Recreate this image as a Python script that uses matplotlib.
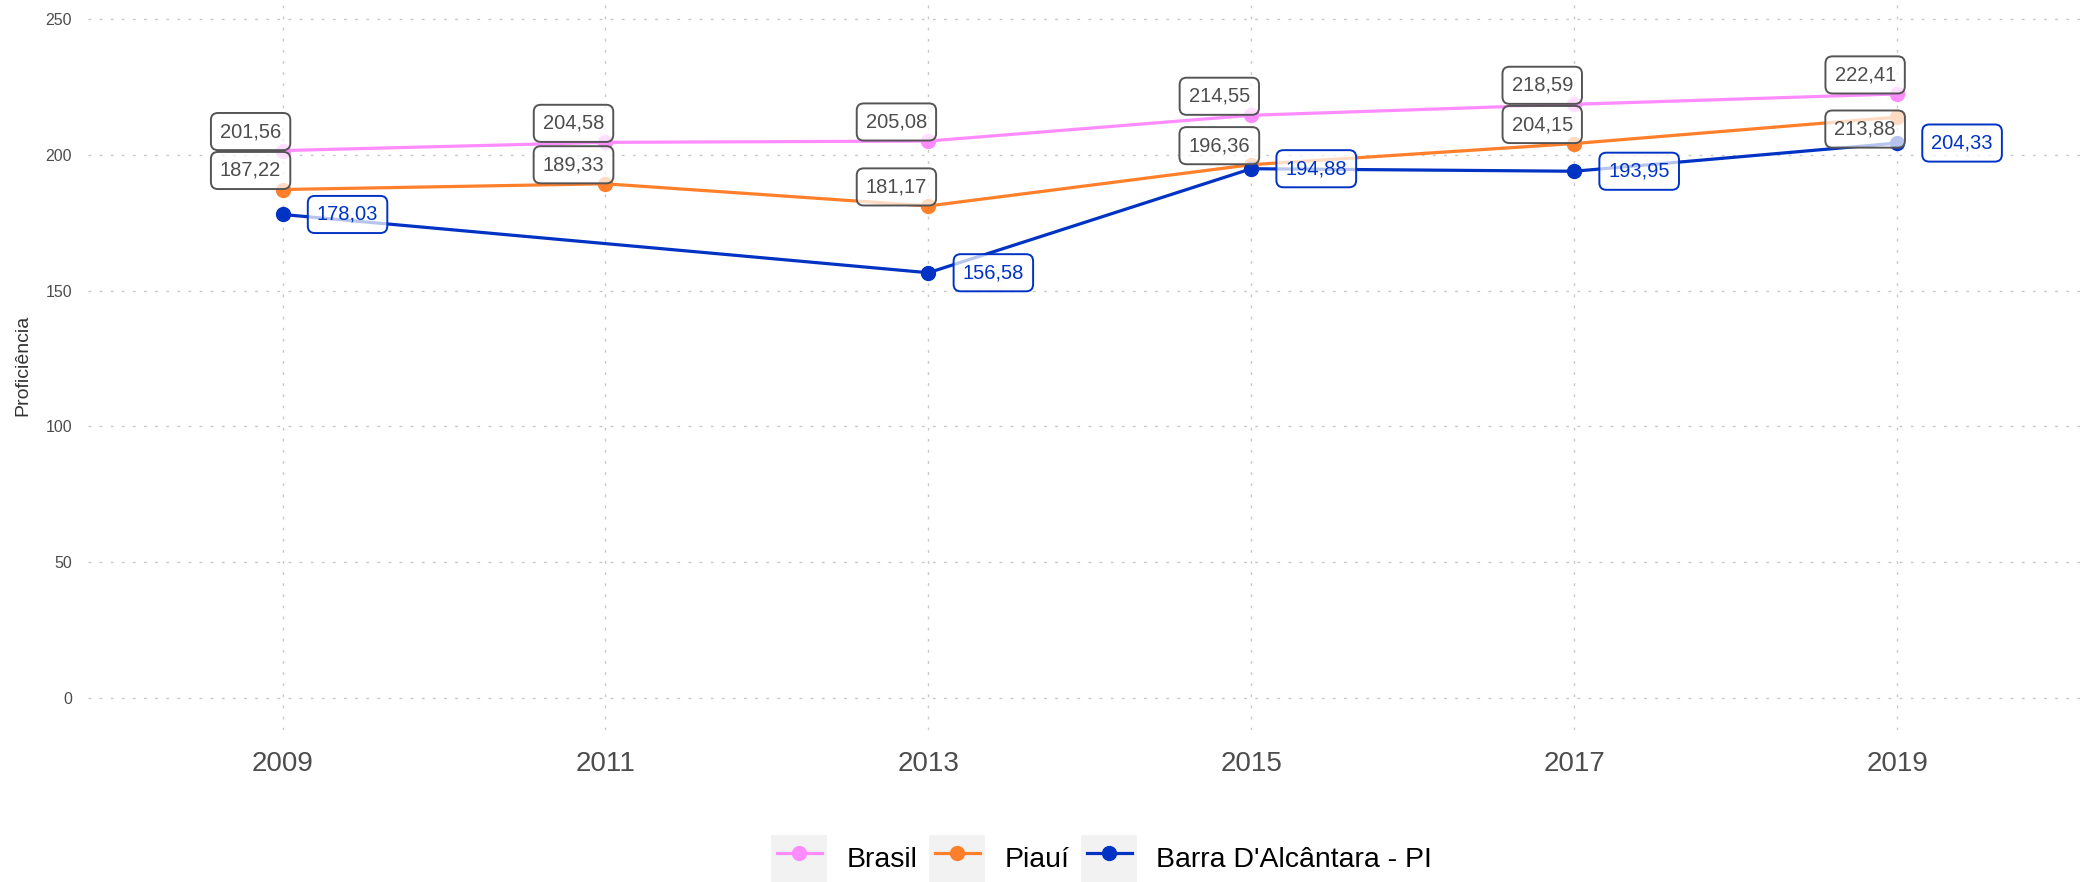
import matplotlib
matplotlib.use('Agg')
import matplotlib.pyplot as plt
from matplotlib.legend_handler import HandlerLine2D
from matplotlib.patches import Rectangle

plt.rcParams['font.family'] = ['Liberation Sans', 'DejaVu Sans']

# data
years = [2009, 2011, 2013, 2015, 2017, 2019]
brasil = [201.56, 204.58, 205.08, 214.55, 218.59, 222.41]
piaui = [187.22, 189.33, 181.17, 196.36, 204.15, 213.88]
years_barra = [2009, 2013, 2015, 2017, 2019]
barra = [178.03, 156.58, 194.88, 193.95, 204.33]
series_names = ['Brasil', 'Piauí', "Barra D'Alcântara - PI"]
y_ticks = [0, 50, 100, 150, 200, 250]

# styles
colors = ['#ff8cff', '#ff7f2a', '#0033c4']
gray_txt = '#4d4d4d'


class KeyWithBackground(HandlerLine2D):
    """Legend key with the grey ggplot-like background square."""

    def create_artists(self, legend, orig_handle, xdescent, ydescent,
                       width, height, fontsize, trans):
        arts = super().create_artists(legend, orig_handle, xdescent, ydescent,
                                      width, height, fontsize, trans)
        m = 0.19 * fontsize
        bg = Rectangle((-xdescent - m, -ydescent - height * 0.1), width + 2 * m, height * 1.2,
                       facecolor='#f2f2f2', edgecolor='none', transform=trans)
        return [bg] + arts


def fmt(v):
    return '{:.2f}'.format(v).replace('.', ',')


def add_label(ax, x, y, dx, dy, color, edge):
    ax.annotate(fmt(y), (x, y), xytext=(dx, dy), textcoords='offset points',
                ha='center', va='center', fontsize=14.5, color=color, zorder=10,
                bbox=dict(boxstyle='round,pad=0.45,rounding_size=0.35',
                          fc=(1, 1, 1, 0.72), ec=edge, lw=1.4))


fig = plt.figure(figsize=(20.8, 8.82), dpi=100)
ax = fig.add_axes([88 / 2080, 1 - 730 / 882, 1 - 88 / 2080, 730 / 882])

handles = []
for xs, ys, c, name in zip([years, years, years_barra], [brasil, piaui, barra], colors, series_names):
    h, = ax.plot(xs, ys, color=c, lw=2.3, marker='o', markersize=10, label=name, zorder=3)
    handles.append(h)

# grey labels above Brasil / Piauí points, blue labels to the right of Barra points
for x, y in zip(years, brasil):
    add_label(ax, x, y, -23, 13.7, gray_txt, '#555555')
for i, (x, y) in enumerate(zip(years, piaui)):
    dy = -8.6 if i == len(years) - 1 else 13.7
    add_label(ax, x, y, -23, dy, gray_txt, '#555555')
for x, y in zip(years_barra, barra):
    add_label(ax, x, y, 46.8, 0, colors[2], colors[2])

ax.set_xlim(2007.795, 2020.133)
ax.set_ylim(-11.78, 257.0)
ax.set_xticks(years)
ax.set_yticks(y_ticks)
ax.tick_params(axis='both', length=0)
ax.tick_params(axis='y', labelsize=11.5, labelcolor=gray_txt, pad=11.5)
ax.tick_params(axis='x', labelsize=20, labelcolor=gray_txt, pad=14.8)
for s in ax.spines.values():
    s.set_visible(False)
ax.grid(True, color='#c8c8c8', lw=1, linestyle=(0, (2, 6)))
ax.set_axisbelow(True)

ax.set_ylabel('Proficiência', fontsize=14, color='#333333')
ax.yaxis.set_label_coords(-0.0286, 0.5)

# put the right edge of the y tick labels 16 px left of the panel
fig.canvas.draw()
right = max(t.get_window_extent().x1 for t in ax.get_yticklabels())
ax.tick_params(axis='y', pad=11.5 + (right - 72) * 0.72)

fig.legend(handles=handles, loc='center', bbox_to_anchor=(0.531, 0.027), ncol=3,
           frameon=False, fontsize=20.5, handlelength=1.58, handleheight=1.75,
           handletextpad=0.86, columnspacing=0.62, borderpad=0,
           handler_map={h: KeyWithBackground() for h in handles})

fig.savefig('out.png', dpi=100, facecolor='white')
